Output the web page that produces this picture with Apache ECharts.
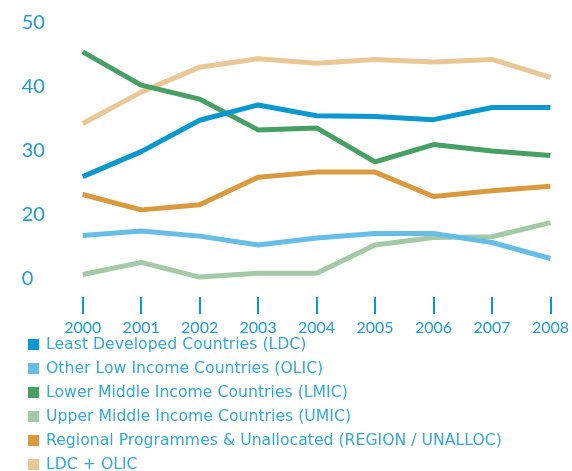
<!DOCTYPE html>
<html><head><meta charset="utf-8">
<script src="https://cdn.jsdelivr.net/npm/echarts@6/dist/echarts.min.js"></script>
<style>html,body{margin:0;padding:0;background:#fff}#c{width:572px;height:471px}</style>
</head><body><div id="c"></div>
<script>
// Values in the chart's own linear scale (bottom gridline = 10, printed as "0" in the original)
const years = ['2000','2001','2002','2003','2004','2005','2006','2007','2008'];
const ldc    = [26.0, 29.9, 34.8, 37.2, 35.5, 35.4, 34.9, 36.8, 36.8];
const olic   = [16.8, 17.5, 16.7, 15.3, 16.4, 17.1, 17.1, 15.7, 13.2];
const lmic   = [45.5, 40.3, 38.1, 33.3, 33.6, 28.3, 31.0, 30.0, 29.3];
const umic   = [10.7, 12.6, 10.3, 10.9, 10.9, 15.3, 16.5, 16.6, 18.8];
const region = [23.2, 20.8, 21.6, 25.9, 26.7, 26.7, 22.9, 23.8, 24.5];
const ldcOlic= [34.3, 39.2, 43.1, 44.4, 43.7, 44.3, 43.9, 44.3, 41.5];
const yTickLabels = {10:'0',20:'20',30:'30',40:'40',50:'50'};

const names = ['Least Developed Countries (LDC)','Other Low Income Countries (OLIC)','Lower Middle Income Countries (LMIC)','Upper Middle Income Countries (UMIC)','Regional Programmes & Unallocated (REGION / UNALLOC)','LDC + OLIC'];
const colors = ['#0a99cf','#66bee6','#469f63','#a4c9a6','#d99a3d','#ebc796'];
const dataSets = [ldc, olic, lmic, umic, region, ldcOlic];
const drawOrder = [5,3,1,4,2,0];

const series = drawOrder.map(i => ({
  name: names[i], type: 'line', data: dataSets[i], symbol: 'none',
  lineStyle: {width: 5, color: colors[i]}, itemStyle: {color: colors[i]},
  z: 2 + drawOrder.indexOf(i)
}));

const chart = echarts.init(document.getElementById('c'));
chart.setOption({
  animation: false,
  grid: {left: 82.7, right: 19.3, top: 23, bottom: 192},
  legend: {
    orient: 'vertical', left: 23, top: 330.5, height: 150, width: 540,
    data: names, icon: 'rect', itemWidth: 11, itemHeight: 11, itemGap: 6,
    textStyle: {color: '#33a9dd', fontSize: 15.7, lineHeight: 18, fontFamily: 'DejaVu Sans', padding: [0,0,0,2]},
    selectedMode: false
  },
  xAxis: {
    type: 'category', data: years, boundaryGap: false, offset: 18,
    axisLine: {show: false},
    axisTick: {show: true, length: 17, alignWithLabel: true, lineStyle: {color: '#0a99cf', width: 2}},
    axisLabel: {color: '#1f9dd6', fontSize: 16, fontFamily: 'Lato', margin: 23, interval: 0}
  },
  yAxis: {
    type: 'value', min: 10, max: 50, interval: 10,
    axisLine: {show: false}, axisTick: {show: false}, splitLine: {show: false},
    axisLabel: {color: '#1f9dd6', fontSize: 20, fontFamily: 'Lato', align: 'left', margin: 61,
      formatter: v => yTickLabels[v] || ''}
  },
  series: series
});
</script></body></html>
